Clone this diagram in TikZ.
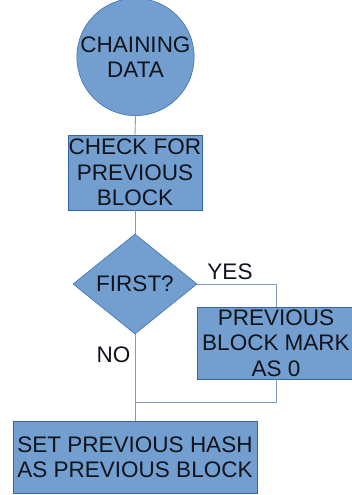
\documentclass[tikz,border=0pt]{standalone}
\usepackage{fontspec}
\setmainfont{Liberation Sans}
\usetikzlibrary{shapes.geometric}
\definecolor{boxfill}{HTML}{729FCF}
\definecolor{boxedge}{HTML}{3465A4}
\definecolor{wire}{HTML}{8299BA}
\definecolor{ink}{HTML}{10131C}
\tikzset{
  x=1pt, y=1pt,
  flowtext/.style={text=ink, font=\fontsize{22.5}{25.5}\selectfont, align=center, inner sep=0pt},
  startnode/.style={flowtext, circle, fill=boxfill, draw=boxedge, line width=0.5pt, minimum size=107pt},
  stepbox/.style={flowtext, rectangle, fill=boxfill, draw=boxedge, line width=0.5pt},
  decision/.style={flowtext, diamond, fill=boxfill, draw=boxedge, line width=0.5pt, minimum width=124pt, minimum height=100pt},
  link/.style={draw=wire, line width=0.9pt},
  branchlabel/.style={text=ink, font=\fontsize{22.5}{25.5}\selectfont, inner sep=0pt}
}
\begin{document}
\begin{tikzpicture}
  \useasboundingbox (0,0) rectangle (352,-495);

  % flow-chart links, drawn first so the shapes sit on top
  \coordinate (join) at (135,-402);

  \node[startnode] (start) at (135.5,-57) {CHAINING\\DATA};
  \node[stepbox, minimum width=134pt, minimum height=75pt] (check) at (135,-172.5) {CHECK FOR\\PREVIOUS\\BLOCK};
  \node[decision] (first) at (135,-284) {FIRST?};
  \node[stepbox, minimum width=158pt, minimum height=72pt] (mark) at (276,-343) {PREVIOUS\\BLOCK MARK\\AS 0};
  \node[stepbox, minimum width=244pt, minimum height=72pt] (sethash) at (135,-457) {SET PREVIOUS HASH\\AS PREVIOUS BLOCK};

  \draw[link] (start.south) -- (check.north);
  \draw[link] (check.south) -- (first.north);
  \draw[link] (first.east) -| (mark.north);
  \draw[link] (mark.south) |- (join);
  \draw[link] (first.south) -- (sethash.north);

  \node[branchlabel] (yes) at (230,-272) {YES};
  \node[branchlabel] (no) at (113.5,-355) {NO};
\end{tikzpicture}
\end{document}
